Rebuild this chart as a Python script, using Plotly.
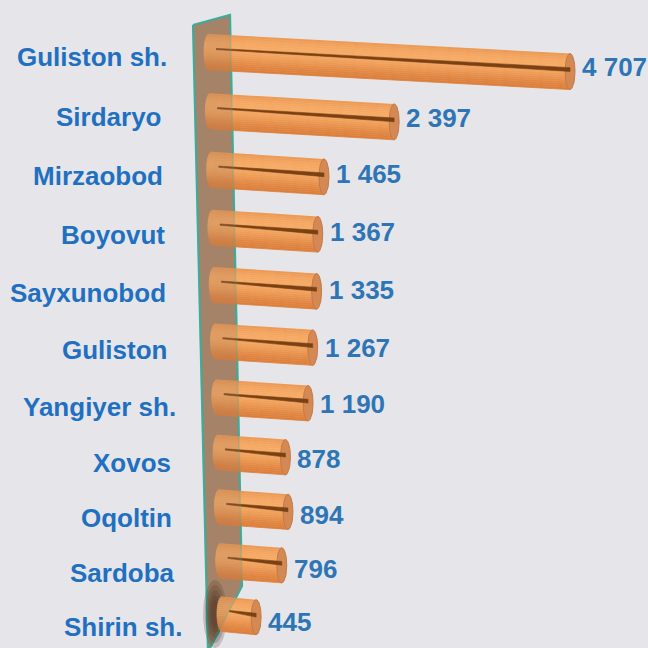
import numpy as np
import plotly.graph_objects as go

# Districts of Sirdaryo region (top to bottom) and their values
districts = ["Guliston sh.", "Sirdaryo ", "Mirzaobod ", "Boyovut ", "Sayxunobod ",
             "Guliston ", "Yangiyer sh.", "Xovos ", "Oqoltin ", "Sardoba ", "Shirin sh."]
values = [4707, 2397, 1465, 1367, 1335, 1267, 1190, 878, 894, 796, 445]

# ---- canvas geometry (pixels) ----
W = H = 648
PX_PER_UNIT = 0.0767      # horizontal pixels per value unit
ORIGIN_PX = 209           # pixel x of value 0 on the first row
UX = 1 / PX_PER_UNIT      # value units per pixel

ROW_SHIFT = 1.3 * UX      # wall recedes slightly to the right going down
CAP_A = 5 * UX            # horizontal semi-axis of the end ellipses
N_BANDS = 18


def px_x(p):
    return (p - ORIGIN_PX) * UX


def row_y(i):
    # perspective category axis: rows get slightly closer towards the bottom
    return 52 + 59.5 * i - 0.33 * i * i


def radius(i):
    return 18 - 0.05 * i


LIGHT = np.array([247, 170, 100])
DARK = np.array([220, 126, 58])


def shade(t):
    f = 0.5 + 0.5 * np.cos(np.pi * (t + 0.35) / 1.45)
    c = DARK + (LIGHT - DARK) * f
    return "rgb(%d,%d,%d)" % tuple(int(round(v)) for v in c)


def geom(i, v):
    xl = i * ROW_SHIFT
    xr = xl + v
    yl = row_y(i)
    yr = yl + 1.5 + 0.05 * v * PX_PER_UNIT
    return xl, xr, yl, yr


fig = go.Figure()
th = np.linspace(0, 2 * np.pi, 60)

# ---- back wall ----
wall_px = [(193, 25), (230, 15), (242, 586), (208, 652)]
wx = [px_x(p[0]) for p in wall_px] + [px_x(wall_px[0][0])]
wy = [p[1] for p in wall_px] + [wall_px[0][1]]
fig.add_trace(go.Scatter(x=wx, y=wy, mode="lines", fill="toself",
                         fillcolor="#a8876c", line=dict(color="#3cb0a0", width=2.2),
                         hoverinfo="skip"))

# soft shadow on the wall around the lowest cylinder
for rx, ry in [(12, 34), (10, 29), (8, 24), (6, 19), (4, 14)]:
    fig.add_trace(go.Scatter(
        x=list(px_x(215 + rx * np.cos(th))), y=list(614 + ry * np.sin(th)),
        mode="lines", fill="toself", fillcolor="rgba(45,22,4,0.19)",
        line=dict(width=0), hoverinfo="skip"))

# ---- cylinder bodies, drawn as shaded horizontal bands ----
edges = np.linspace(-1, 1, N_BANDS + 1)
for k in range(N_BANDS):
    t1, t2 = edges[k], edges[k + 1]
    col = shade(0.5 * (t1 + t2))
    xs, ys = [], []
    for i, v in enumerate(values):
        xl, xr, yl, yr = geom(i, v)
        r = radius(i)
        xs += [xr, xr]
        ys += [yr + t1 * r, yr + t2 * r]
        for t in np.linspace(t1, t2, 4)[::-1]:
            xs.append(xl - CAP_A * np.sqrt(max(0.0, 1 - t * t)))
            ys.append(yl + t * r)
        xs.append(None)
        ys.append(None)
    fig.add_trace(go.Scatter(x=xs, y=ys, mode="lines", fill="toself",
                             fillcolor=col, line=dict(color=col, width=0.8),
                             hoverinfo="skip"))

# ---- end faces ----
xs, ys = [], []
for i, v in enumerate(values):
    xl, xr, yl, yr = geom(i, v)
    xs += list(xr + CAP_A * np.cos(th)) + [None]
    ys += list(yr + radius(i) * np.sin(th)) + [None]
fig.add_trace(go.Scatter(x=xs, y=ys, mode="lines", fill="toself",
                         fillcolor="#d48955", line=dict(color="#c47a46", width=1),
                         hoverinfo="skip"))

# ---- dark inner sliver along each cylinder ----
xs, ys = [], []
for i, v in enumerate(values):
    xl, xr, yl, yr = geom(i, v)
    xs0 = xl + 7 * UX
    yc0 = yl - 3
    yc1 = yr - 2
    xs += [xs0, xr, xr, xs0, None]
    ys += [yc0 - 0.6, yc1 - 1.9, yc1 + 1.9, yc0 + 0.6, None]
fig.add_trace(go.Scatter(x=xs, y=ys, mode="lines", fill="toself",
                         fillcolor="#7a4214", line=dict(color="#7a4214", width=0.6),
                         hoverinfo="skip"))

# ---- wall seen through the translucent cylinders ----
fig.add_trace(go.Scatter(x=wx, y=wy, mode="lines", fill="toself",
                         fillcolor="rgba(150,118,95,0.22)",
                         line=dict(color="rgba(60,176,160,0.25)", width=1.5),
                         hoverinfo="skip"))

# ---- labels ----
FONT = "Liberation Sans, Arial, sans-serif"
annotations = []
for i, (name, v) in enumerate(zip(districts, values)):
    xl, xr, yl, yr = geom(i, v)
    label = name.rstrip() + "\u00a0" * (len(name) - len(name.rstrip()))
    annotations.append(dict(
        x=px_x(169 + 1.5 * i), y=row_y(i) + 5 + 0.8 * i, text=label, showarrow=False,
        xanchor="right", yanchor="middle",
        font=dict(family=FONT, size=26, color="#1f70c1", weight="bold")))
    annotations.append(dict(
        x=xr + CAP_A + 5 * UX, y=yr - 5 + i,
        text=f"{v:,}".replace(",", "\u00a0"), showarrow=False,
        xanchor="left", yanchor="middle",
        font=dict(family=FONT, size=26, color="#2e75b6", weight="bold")))

fig.update_layout(
    width=W, height=H,
    margin=dict(l=0, r=0, t=0, b=0),
    paper_bgcolor="#e6e6ea", plot_bgcolor="#e6e6ea",
    showlegend=False, hovermode=False,
    xaxis=dict(range=[px_x(0), px_x(W)], visible=False, fixedrange=True),
    yaxis=dict(range=[H, 0], visible=False, fixedrange=True),
    annotations=annotations,
)

fig.write_html("out.html")
